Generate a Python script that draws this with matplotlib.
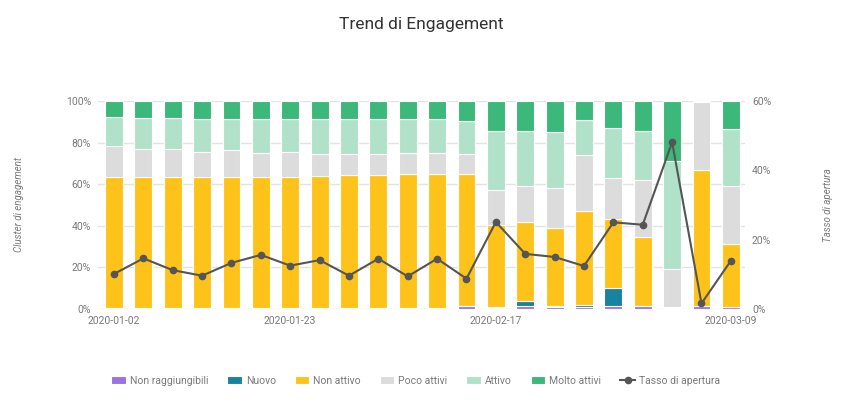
import matplotlib.pyplot as plt
import numpy as np
from matplotlib.ticker import FuncFormatter

# data (percent of contacts per cluster)
dates = ["2020-01-02", "2020-01-06", "2020-01-09", "2020-01-13", "2020-01-16",
         "2020-01-20", "2020-01-23", "2020-01-27", "2020-01-30", "2020-02-03",
         "2020-02-06", "2020-02-10", "2020-02-13", "2020-02-17", "2020-02-20",
         "2020-02-24", "2020-02-26", "2020-02-27", "2020-03-02", "2020-03-04",
         "2020-03-05", "2020-03-09"]
shown_dates = ["2020-01-02", "2020-01-23", "2020-02-17", "2020-03-09"]

non_raggiungibili = [0.2, 0.2, 0.2, 0.3, 0.3, 0.3, 0.2, 0.3, 0.3, 0.3, 0.3, 0.2, 1.6,
                     0.5, 1.4, 1.0, 1.0, 1.6, 1.2, 0.6, 1.6, 1.0]
nuovo = [0.3, 0.3, 0.2, 0.4, 0.4, 0.3, 0.2, 0.4, 0.3, 0.3, 0.4, 0.3, 0.0,
         0.5, 2.6, 0.4, 1.0, 8.5, 0.4, 0.0, 0.0, 0.0]
non_attivo = [63.1, 62.8, 62.9, 62.6, 62.9, 63.0, 63.2, 63.4, 64.0, 64.0, 64.2, 64.4, 63.3,
              39.4, 38.0, 37.5, 45.0, 33.3, 33.0, 0.3, 65.4, 30.1]
poco_attivi = [14.6, 13.8, 13.8, 12.0, 12.7, 11.6, 11.7, 10.6, 10.1, 9.8, 10.0, 10.0, 9.5,
               16.8, 17.3, 19.1, 26.9, 19.4, 27.4, 18.1, 32.7, 27.9]
attivo = [13.9, 14.6, 14.6, 15.9, 15.2, 16.0, 15.9, 16.5, 16.5, 16.8, 16.3, 16.3, 16.2,
          28.2, 26.1, 27.0, 16.9, 24.1, 23.4, 52.1, 0.3, 27.4]
molto_attivi = [7.9, 8.3, 8.3, 8.8, 8.5, 8.8, 8.8, 8.8, 8.8, 8.8, 8.8, 8.8, 9.2,
                14.6, 14.6, 15.0, 9.2, 13.1, 14.6, 28.8, 0.0, 13.6]
tasso_apertura = [10.1, 14.6, 11.2, 9.6, 13.3, 15.6, 12.5, 14.1, 9.6, 14.5, 9.4, 14.5, 8.75,
                  25.1, 15.9, 15.0, 12.4, 25.0, 24.3, 48.1, 1.6, 13.9]

series = [
    ("Non raggiungibili", non_raggiungibili, "#9b72e2"),
    ("Nuovo", nuovo, "#17839f"),
    ("Non attivo", non_attivo, "#fec31b"),
    ("Poco attivi", poco_attivi, "#dcdcdc"),
    ("Attivo", attivo, "#b1e2c9"),
    ("Molto attivi", molto_attivi, "#3bb87a"),
]

plt.rcParams['font.family'] = ['Roboto', 'DejaVu Sans']
grey = "#7a7a7a"

fig = plt.figure(figsize=(8.55, 4.03), dpi=100)
ax = fig.add_axes([0.1146, 0.2333, 0.7567, 0.5161])
x = np.arange(len(dates))

bottom = np.zeros(len(dates))
handles = []
for name, vals, col in series:
    vals = np.array(vals)
    b = ax.bar(x, vals, 0.61, bottom=bottom, color=col, edgecolor="white",
               linewidth=0.8, label=name, zorder=2)
    handles.append(b)
    bottom += vals

ax.set_xlim(-0.545, 21.48)
ax.set_ylim(0, 100)
ax.set_yticks([0, 20, 40, 60, 80, 100])
ax.yaxis.set_major_formatter(FuncFormatter(lambda v, p: f"{v:.0f}%"))
ticks = [dates.index(d) for d in shown_dates]
ax.set_xticks(ticks)
ax.set_xticklabels(shown_dates)
ax.grid(axis="y", color="#e3e3e3", linewidth=1, zorder=0)
ax.set_axisbelow(True)
for s in ax.spines.values():
    s.set_visible(False)
ax.tick_params(length=0, labelsize=7.5, colors=grey, pad=5)
ax.set_ylabel("Cluster di engagement", fontsize=7, color=grey, style="italic", labelpad=30)

ax2 = ax.twinx()
line, = ax2.plot(x, tasso_apertura, color="#555555", linewidth=1.5, marker="o",
                 markersize=4.5, zorder=5, label="Tasso di apertura")
ax2.set_ylim(0, 60)
ax2.set_yticks([0, 20, 40, 60])
ax2.yaxis.set_major_formatter(FuncFormatter(lambda v, p: f"{v:.0f}%"))
for s in ax2.spines.values():
    s.set_visible(False)
ax2.tick_params(length=0, labelsize=7.5, colors=grey, pad=5)
ax2.set_ylabel("Tasso di apertura", fontsize=7, color=grey, style="italic", labelpad=37)

fig.text(0.4925, 0.94, "Trend di Engagement", ha="center", va="center",
         fontsize=12.5, color="#333333")

leg = fig.legend(handles + [line], [h.get_label() for h in handles] + ["Tasso di apertura"],
                 loc="center", bbox_to_anchor=(0.486, 0.055), ncol=7, frameon=False,
                 fontsize=7.5, handlelength=1.4, handleheight=0.8, columnspacing=1.8,
                 handletextpad=0.4)
for t in leg.get_texts():
    t.set_color(grey)

fig.savefig("out.png", dpi=100)
